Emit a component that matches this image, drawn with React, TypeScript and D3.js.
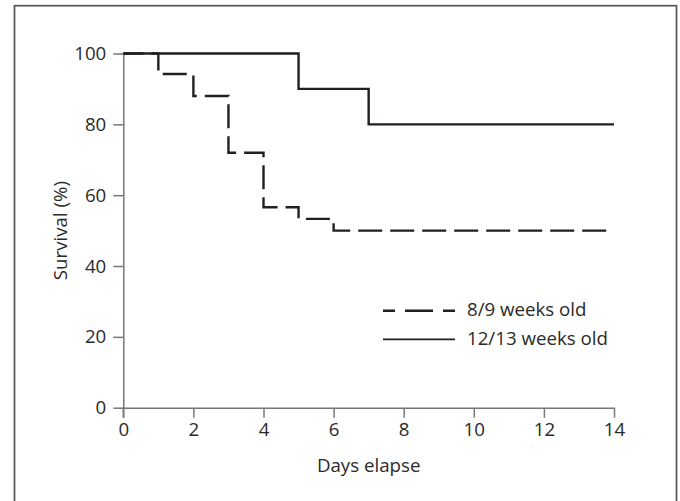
import React, { useEffect, useRef } from "react";
import * as d3 from "d3";

// Kaplan-Meier style survival steps
const youngDays = [0, 1, 2, 3, 4, 5, 6, 14];
const youngSurvival = [100, 94.2, 88.0, 72.0, 56.6, 53.3, 50, 50];
const oldDays = [0, 5, 7, 14];
const oldSurvival = [100, 90, 80, 80];

const xTicks = [0, 2, 4, 6, 8, 10, 12, 14];
const yTicks = [0, 20, 40, 60, 80, 100];
const seriesNames = ["8/9 weeks old", "12/13 weeks old"];

const W = 680;
const H = 501;
const FONT = "'Open Sans', sans-serif";
const FS = "18.7px";

function drawChart(el: SVGSVGElement) {
  const svg = d3.select(el);
  svg.selectAll("*").remove();

  const margin = { left: 123.3, right: 66, top: 53.5, bottom: 93.3 };
  const x = d3.scaleLinear().domain([0, 14]).range([margin.left, W - margin.right]);
  const y = d3.scaleLinear().domain([0, 100]).range([H - margin.bottom, margin.top]);

  // outer frame
  svg.append("rect")
    .attr("x", 14.5).attr("y", 5.7)
    .attr("width", 662).attr("height", 520)
    .attr("fill", "none")
    .attr("stroke", "#555")
    .attr("stroke-width", 1.7);

  const axisColor = "#777";
  const textColor = "#2a2a2a";

  // x axis
  const gx = svg.append("g")
    .attr("transform", `translate(0,${y(0)})`)
    .call(d3.axisBottom(x).tickValues(xTicks).tickSize(10).tickPadding(5).tickSizeOuter(0));
  // y axis
  const gy = svg.append("g")
    .attr("transform", `translate(${x(0)},0)`)
    .call(d3.axisLeft(y).tickValues(yTicks).tickSize(10).tickPadding(7).tickSizeOuter(0));

  [gx, gy].forEach((g) => {
    g.select(".domain").attr("stroke", axisColor).attr("stroke-width", 1.5);
    g.selectAll(".tick line").attr("stroke", axisColor).attr("stroke-width", 1.5);
    g.selectAll(".tick text")
      .attr("fill", textColor)
      .style("font-family", FONT)
      .style("font-size", FS);
  });
  // y axis runs down through the zero tick
  svg.append("line")
    .attr("x1", x(0)).attr("x2", x(0))
    .attr("y1", y(0)).attr("y2", y(0) + 10)
    .attr("stroke", axisColor).attr("stroke-width", 1.5);

  // axis titles
  svg.append("text")
    .attr("x", (x(0) + x(14)) / 2)
    .attr("y", 472)
    .attr("text-anchor", "middle")
    .attr("fill", textColor)
    .style("font-family", FONT)
    .style("font-size", FS)
    .text("Days elapse");

  svg.append("text")
    .attr("transform", `translate(67,${(y(0) + y(100)) / 2}) rotate(-90)`)
    .attr("text-anchor", "middle")
    .attr("fill", textColor)
    .style("font-family", FONT)
    .style("font-size", FS)
    .text("Survival (%)");

  const line = d3.line<[number, number]>()
    .x((d) => x(d[0]))
    .y((d) => y(d[1]))
    .curve(d3.curveStepAfter);

  const lineColor = "#231f20";

  svg.append("path")
    .datum(oldDays.map((d, i) => [d, oldSurvival[i]] as [number, number]))
    .attr("d", line)
    .attr("fill", "none")
    .attr("stroke", lineColor)
    .attr("stroke-width", 2.4);

  svg.append("path")
    .datum(youngDays.map((d, i) => [d, youngSurvival[i]] as [number, number]))
    .attr("d", line)
    .attr("fill", "none")
    .attr("stroke", lineColor)
    .attr("stroke-width", 2.4)
    .attr("stroke-dasharray", "24,8")
    .attr("stroke-dashoffset", 4);

  // legend
  const legend = svg.append("g");
  const rows = [
    { name: seriesNames[0], dash: "28,10", y: 310.7 },
    { name: seriesNames[1], dash: null, y: 339.3 },
  ];
  rows.forEach((r) => {
    const l = legend.append("line")
      .attr("x1", 383).attr("x2", 455)
      .attr("y1", r.y).attr("y2", r.y)
      .attr("stroke", lineColor)
      .attr("stroke-width", r.dash ? 2.4 : 1.8);
    if (r.dash) l.attr("stroke-dasharray", r.dash).attr("stroke-dashoffset", 16);
    legend.append("text")
      .attr("x", 467)
      .attr("y", r.y)
      .attr("dy", "0.3em")
      .attr("fill", textColor)
      .style("font-family", FONT)
      .style("font-size", FS)
      .text(r.name);
  });
}

export default function App() {
  const ref = useRef<SVGSVGElement>(null);
  useEffect(() => {
    if (ref.current) drawChart(ref.current);
  }, []);
  return (
    <svg
      ref={ref}
      width={W}
      height={H}
      style={{ position: "absolute", left: 0, top: 0, background: "#fff" }}
    />
  );
}
